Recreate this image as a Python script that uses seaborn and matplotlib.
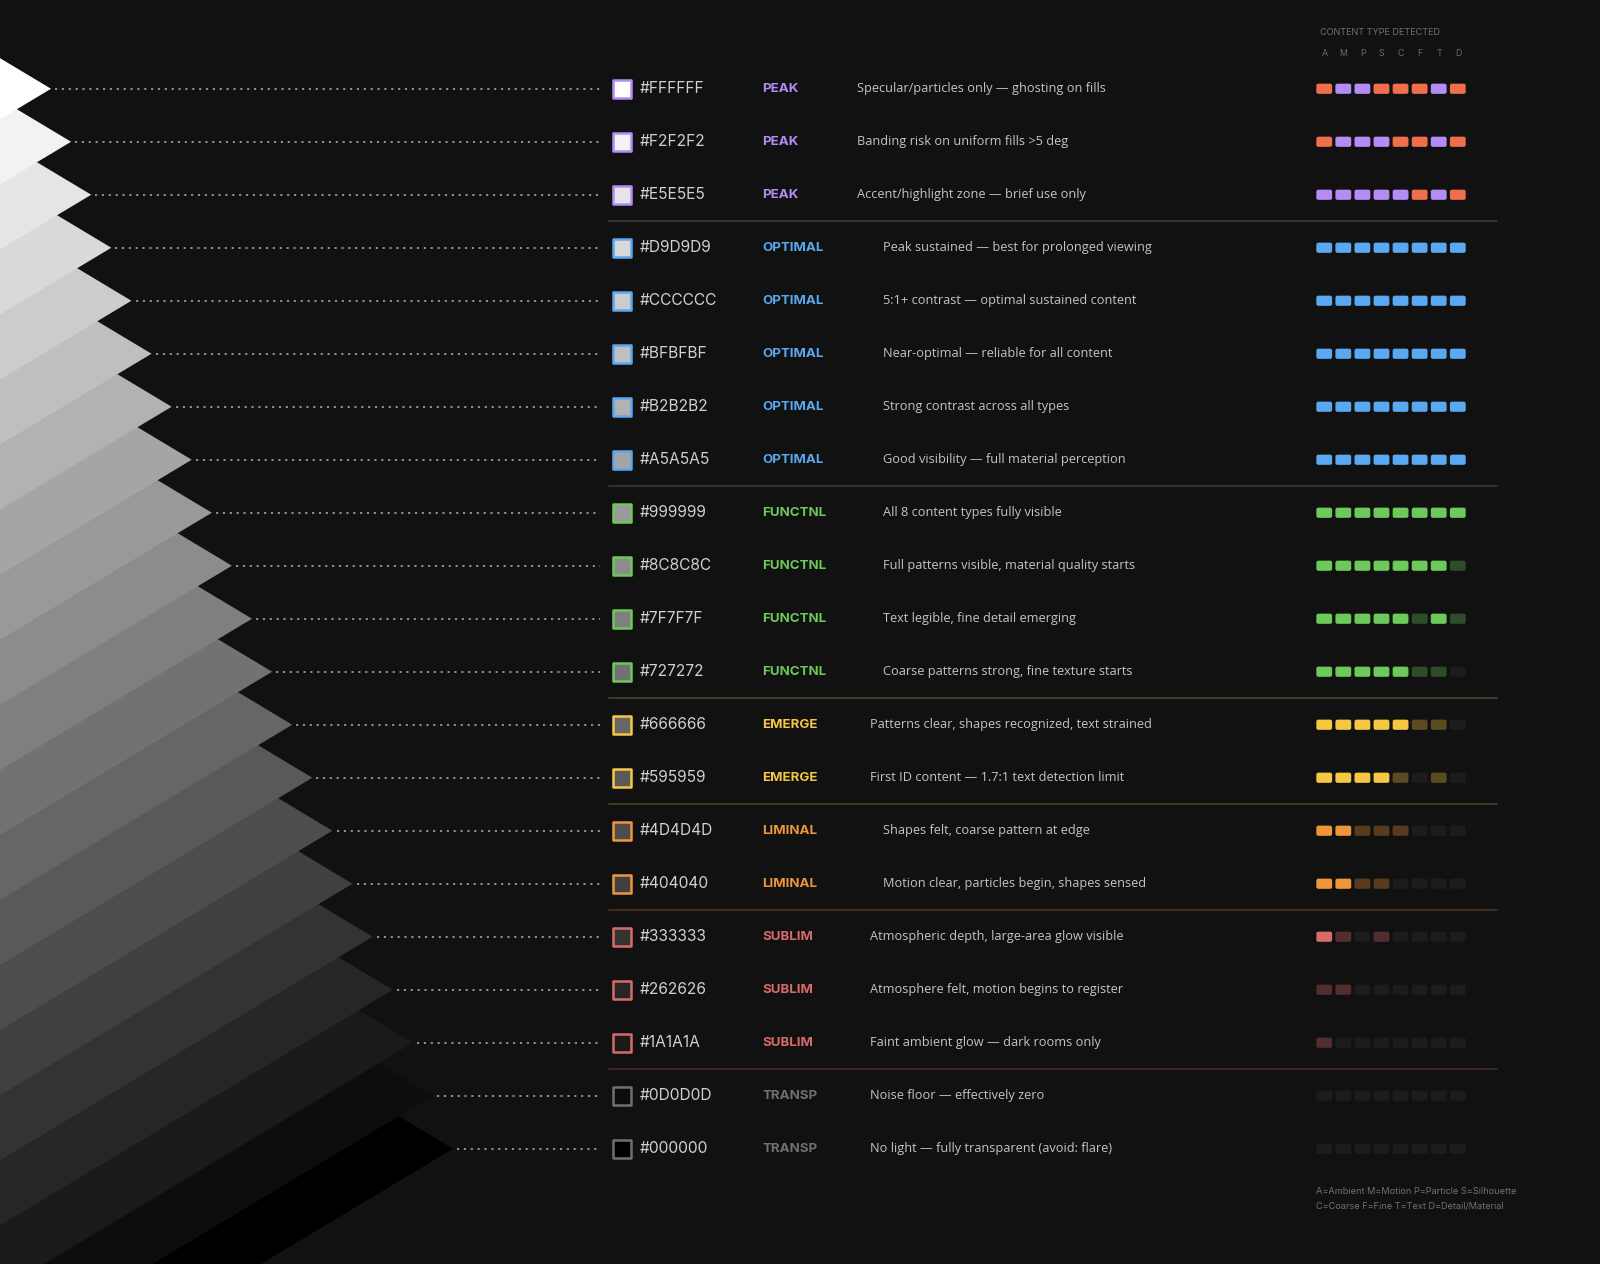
import matplotlib
matplotlib.use("Agg")
import matplotlib.pyplot as plt
import seaborn as sns
import pandas as pd
from matplotlib.patches import Polygon, FancyBboxPatch

hexes = ["#FFFFFF","#F2F2F2","#E5E5E5","#D9D9D9","#CCCCCC","#BFBFBF","#B2B2B2","#A5A5A5",
         "#999999","#8C8C8C","#7F7F7F","#727272","#666666","#595959","#4D4D4D","#404040",
         "#333333","#262626","#1A1A1A","#0D0D0D","#000000"]
categories = ["PEAK"]*3 + ["OPTIMAL"]*5 + ["FUNCTNL"]*4 + ["EMERGE"]*2 + ["LIMINAL"]*2 + ["SUBLIM"]*3 + ["TRANSP"]*2
descriptions = [
    "Specular/particles only — ghosting on fills",
    "Banding risk on uniform fills >5 deg",
    "Accent/highlight zone — brief use only",
    "Peak sustained — best for prolonged viewing",
    "5:1+ contrast — optimal sustained content",
    "Near-optimal — reliable for all content",
    "Strong contrast across all types",
    "Good visibility — full material perception",
    "All 8 content types fully visible",
    "Full patterns visible, material quality starts",
    "Text legible, fine detail emerging",
    "Coarse patterns strong, fine texture starts",
    "Patterns clear, shapes recognized, text strained",
    "First ID content — 1.7:1 text detection limit",
    "Shapes felt, coarse pattern at edge",
    "Motion clear, particles begin, shapes sensed",
    "Atmospheric depth, large-area glow visible",
    "Atmosphere felt, motion begins to register",
    "Faint ambient glow — dark rooms only",
    "Noise floor — effectively zero",
    "No light — fully transparent (avoid: flare)",
]
# cell states: O=orange, P=purple, 2=full, 1=dim, 0=off
cells = ["OPPOOOPO","OPPPOOPO","PPPPPOPO",
         "22222222","22222222","22222222","22222222","22222222",
         "22222222","22222221","22222121","22222110",
         "22222110","22221010",
         "22111000","22110000",
         "21010000","11000000","10000000",
         "00000000","00000000"]
content_types = ["A","M","P","S","C","F","T","D"]
legend_lines = ["A=Ambient M=Motion P=Particle S=Silhouette", "C=Coarse F=Fine T=Text D=Detail/Material"]
header = "CONTENT TYPE DETECTED"

cat_color = {"PEAK":"#b48cf5","OPTIMAL":"#5aa8f2","FUNCTNL":"#6cc95a","EMERGE":"#f5c843",
             "LIMINAL":"#f0963a","SUBLIM":"#d96a6a","TRANSP":"#707070"}
desc_x = {"PEAK":840,"OPTIMAL":865,"FUNCTNL":865,"EMERGE":853,"LIMINAL":865,"SUBLIM":853,"TRANSP":853}
sep_color = {"PEAK":"#3a3a3a","OPTIMAL":"#2e3a48","FUNCTNL":"#3e4a2e","EMERGE":"#4a4228",
             "LIMINAL":"#4a3622","SUBLIM":"#4a2a2a"}

BG = "#111111"
sns.set_theme(style="dark", rc={"axes.facecolor": BG, "figure.facecolor": BG})
plt.rcParams['font.family'] = ['Inter', 'DejaVu Sans']

fig = plt.figure(figsize=(16, 12.64), dpi=100)
ax = fig.add_axes([0, 0, 1, 1])

n = len(hexes)
y0, dy = 87, 51.95
tip_x0, dtx = 50, 19.7
ys = [y0 + dy*i for i in range(n)]

# chevrons
L = 2500
for i, h in enumerate(hexes):
    tx, ty = tip_x0 + dtx*i, ys[i]
    ax.add_patch(Polygon([(tx, ty), (tx-L, ty-0.6*L), (tx-L, ty+0.6*L)], closed=True,
                         facecolor=h, edgecolor="none", zorder=10 + n - i))
    ax.plot([tx+4, 588], [ty, ty], color="#9a9a9a", lw=1.3, ls=(0, (1.2, 2.6)), zorder=40)

# swatches via seaborn
df = pd.DataFrame({"x": [610]*n, "y": ys, "hexv": hexes, "group": categories})
for i in range(n):
    sns.scatterplot(x=[df["x"][i]], y=[df["y"][i]], ax=ax, marker="s", s=150, color=df["hexv"][i],
                    edgecolor=cat_color[df["group"][i]], linewidth=1.8, zorder=50, legend=False)
ax.set_xlim(0, 1568); ax.set_ylim(1239, 0)
ax.axis("off")

for i in range(n):
    y, cat = ys[i], categories[i]
    ax.text(627, y, hexes[i], color="#d0d0d0", fontsize=11.2, va="center", ha="left", zorder=60)
    ax.text(747, y, cat, color=cat_color[cat], fontsize=9.6, fontweight="bold", va="center", zorder=60)
    ax.text(desc_x[cat], y, descriptions[i], color="#c4c4c4", fontsize=9.2, va="center",
            family=["Open Sans", "DejaVu Sans"], zorder=60)
    for j, c in enumerate(cells[i]):
        if c == "O":
            fc, a = "#ef6f4d", 1
        elif c == "P":
            fc, a = "#b48cf5", 1
        elif c == "2":
            fc, a = cat_color[cat], 1
        elif c == "1":
            fc, a = cat_color[cat], 0.32
        else:
            fc, a = "#1c1c1c", 1
        ax.add_patch(FancyBboxPatch((1290 + j*18.7, y-5), 15.5, 10,
                     boxstyle="round,pad=0,rounding_size=2", facecolor=fc, alpha=a,
                     edgecolor="none", zorder=55))
    if i < n-1 and categories[i+1] != cat:
        yy = (ys[i] + ys[i+1]) / 2
        ax.plot([597, 1467], [yy, yy], color=sep_color[cat], lw=1.2, zorder=45)

ax.text(1294, 32, header, color="#707070", fontsize=6.6, va="center", zorder=60)
for j, t in enumerate(content_types):
    ax.text(1298 + j*18.7, 52, t, color="#6a6a6a", fontsize=6.4, ha="center", va="center", zorder=60)
ax.text(1290, 1168, legend_lines[0], color="#707070", fontsize=6.6, va="center", zorder=60)
ax.text(1290, 1183, legend_lines[1], color="#707070", fontsize=6.6, va="center", zorder=60)

fig.savefig("out.png", dpi=100, facecolor=BG)
